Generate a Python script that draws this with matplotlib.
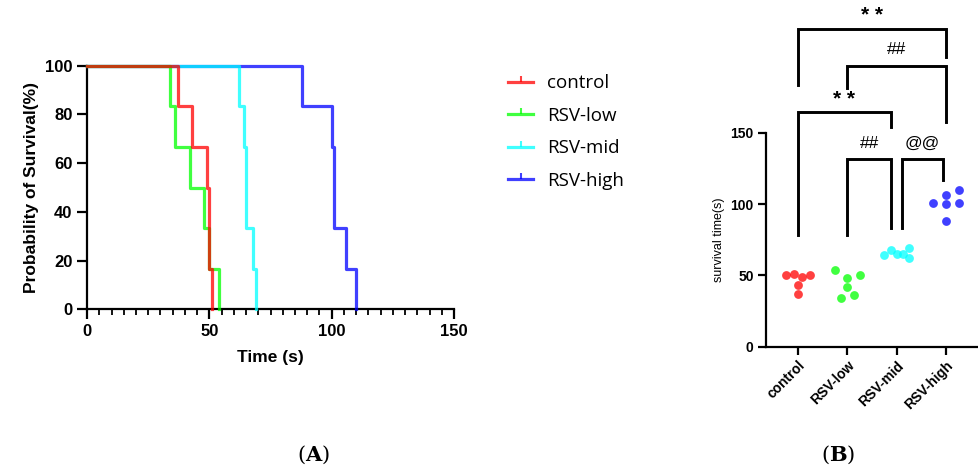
import numpy as np
import matplotlib
matplotlib.use('Agg')
import matplotlib.pyplot as plt
from matplotlib.lines import Line2D

plt.rcParams['font.family'] = ['Liberation Sans', 'DejaVu Sans']
plt.rcParams['mathtext.fontset'] = 'dejavuserif'

# survival time (s) of each animal, six per group
groups = ['control', 'RSV-low', 'RSV-mid', 'RSV-high']
control = [50, 51, 49, 50, 43, 37]
rsv_low = [54, 48, 50, 42, 34, 36]
rsv_mid = [64, 68, 65, 65, 69, 62]
rsv_high = [101, 106, 110, 100, 101, 88]
times = [control, rsv_low, rsv_mid, rsv_high]
colors = ['#FF0000', '#00FF00', '#00FFFF', '#0000FF']

# horizontal spread of the dots in panel B
spread = [[-0.24, -0.07, 0.09, 0.25, 0, 0],
          [-0.24, 0, 0.26, 0, -0.12, 0.13],
          [-0.25, -0.11, 0, 0.12, 0.25, 0.25],
          [-0.26, 0, 0.25, 0, 0.25, 0]]

# significance brackets: x left, x right, top, left foot, right foot, label, label y
brackets = [(0, 3.0, 222.6, 183.4, 202.8, '**', 232),
            (1, 3.0, 196.9, 181.1, 157.7, '##', 208),
            (0, 1.89, 164.3, 78.3, 153.7, '**', 173.5),
            (1, 1.89, 131.5, 78.3, 83.0, '##', 142.5),
            (2.11, 2.94, 131.5, 83.0, 116.8, '@@', 142.5)]

fig = plt.figure(figsize=(9.79, 4.72), dpi=100)

# ---- (A) Kaplan-Meier curves ----
ax = fig.add_axes([0.0889, 0.3447, 0.3749, 0.516])
for i in [3, 2, 1, 0]:
    t = np.sort(times[i])
    n = len(t)
    x = np.concatenate([[0], t])
    y = np.concatenate([[100], 100 * (1 - np.arange(1, n + 1) / n)])
    ax.step(x, y, where='post', color=colors[i], lw=2.3, alpha=0.75,
            clip_on=False, zorder=3 + (3 - i))

ax.set_xlim(0, 150)
ax.set_ylim(0, 100)
ax.set_xticks([0, 50, 100, 150])
ax.set_xticks(np.arange(0, 151, 5), minor=True)
ax.set_yticks([0, 20, 40, 60, 80, 100])
for s in ['top', 'right']:
    ax.spines[s].set_visible(False)
for s in ['left', 'bottom']:
    ax.spines[s].set_linewidth(1.6)
ax.tick_params(which='major', length=7.5, width=1.6, labelsize=12, pad=3)
ax.tick_params(which='minor', length=4, width=1.3)
for lab in ax.get_xticklabels() + ax.get_yticklabels():
    lab.set_fontweight('bold')
ax.set_xlabel('Time (s)', fontsize=12.5, fontweight='bold', labelpad=8)
ax.set_ylabel('Probability of Survival(%)', fontsize=12.5, fontweight='bold', labelpad=4)

handles = [Line2D([], [], color=c, lw=2.3, alpha=0.75, marker=2, markersize=4,
                  markeredgewidth=1.5) for c in colors]
fig.legend(handles, groups, loc='upper left', bbox_to_anchor=(0.519, 0.843),
           frameon=False, prop={'family': 'Open Sans', 'size': 13.5},
           handlelength=1.35, handletextpad=0.75, labelspacing=0.78,
           borderpad=0, borderaxespad=0, numpoints=1)

# ---- (B) dot plot ----
bx = fig.add_axes([765.5 / 979, 0.2655, 212.9 / 979, 0.4534])
for i in range(4):
    xs = i + np.array(spread[i])
    bx.scatter(xs, times[i], s=40, color=colors[i], alpha=0.75, lw=0, zorder=3)

for x1, x2, ytop, yl, yr, txt, ty in brackets:
    bx.plot([x1, x1, x2, x2], [yl, ytop, ytop, yr], color='black', lw=2.1,
            clip_on=False, solid_joinstyle='miter')
    if txt == '**':
        bx.text((x1 + x2) / 2, ty, '* *', ha='center', va='center', fontsize=15,
                fontweight='bold', clip_on=False)
    else:
        bx.text((x1 + x2) / 2, ty, txt, ha='center', va='center', fontsize=12.5,
                clip_on=False)

bx.set_xlim(-0.65, 3.65)
bx.set_ylim(0, 150)
bx.set_yticks([0, 50, 100, 150])
bx.set_xticks(range(4))
bx.set_xticklabels(groups, rotation=45, ha='right', rotation_mode='anchor')
for s in ['top', 'right']:
    bx.spines[s].set_visible(False)
for s in ['left', 'bottom']:
    bx.spines[s].set_linewidth(1.6)
bx.tick_params(length=5.5, width=1.6, labelsize=10, pad=3)
for lab in bx.get_xticklabels() + bx.get_yticklabels():
    lab.set_fontweight('bold')
bx.set_ylabel('survival time(s)', fontsize=9, labelpad=4)

# panel letters
fig.text(313 / 979, 0.036, r'($\mathbf{A}$)', ha='center', va='center',
         fontsize=15, family='DejaVu Serif')
fig.text(838 / 979, 0.036, r'($\mathbf{B}$)', ha='center', va='center',
         fontsize=15, family='DejaVu Serif')

fig.savefig('out.png', dpi=100)
